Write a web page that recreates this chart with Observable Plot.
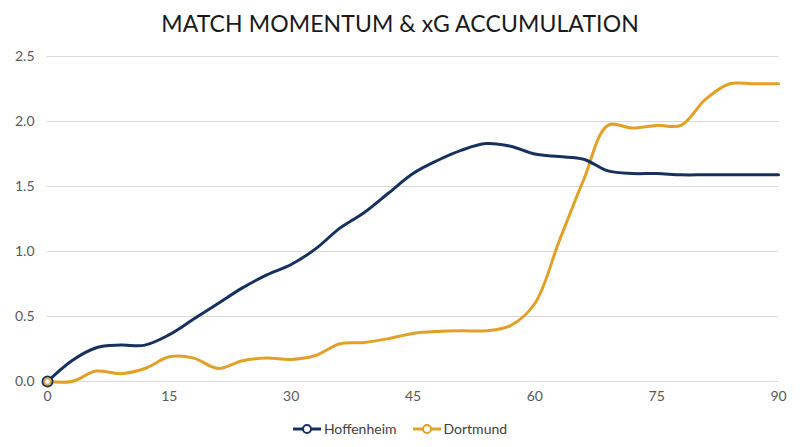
<!DOCTYPE html>
<html>
<head>
<meta charset="utf-8">
<script src="https://cdn.jsdelivr.net/npm/d3@7"></script>
<script src="https://cdn.jsdelivr.net/npm/@observablehq/plot@0.6"></script>
<style>
  html, body { margin: 0; padding: 0; background: #fff; }
  body { width: 800px; height: 447px; overflow: hidden; font-family: Lato, "Open Sans", sans-serif; }
  #title { height: 44px; line-height: 46px; text-align: center; font-size: 23px; color: #1a1a1a; letter-spacing: 0.1px; }
  #legend { display: flex; justify-content: center; gap: 16px; font-size: 14px; color: #404040; margin-top: 6px; }
  .item { display: flex; align-items: center; gap: 3px; }
</style>
</head>
<body>
<div id="title">MATCH MOMENTUM &amp; xG ACCUMULATION</div>
<div id="chart"></div>
<div id="legend"></div>
<script>
const minutes = [0,3,6,9,12,15,18,21,24,27,30,33,36,39,42,45,48,51,54,57,60,63,66,69,72,75,78,81,84,87,90];
const hoffenheim = [0,0.16,0.26,0.28,0.28,0.36,0.48,0.60,0.72,0.82,0.90,1.02,1.18,1.30,1.45,1.60,1.70,1.78,1.83,1.81,1.75,1.73,1.71,1.62,1.60,1.60,1.59,1.59,1.59,1.59,1.59];
const dortmund = [0,0.0,0.08,0.06,0.10,0.19,0.18,0.10,0.16,0.18,0.17,0.20,0.29,0.30,0.33,0.37,0.385,0.39,0.39,0.43,0.60,1.08,1.55,1.97,1.95,1.97,1.97,2.17,2.29,2.29,2.29];
const seriesNames = ["Hoffenheim", "Dortmund"];
const seriesColors = ["#16305f", "#e2a026"];
const xTicks = [0,15,30,45,60,75,90];
const yTicks = [0,0.5,1,1.5,2,2.5];

const data = [];
minutes.forEach((m, i) => {
  data.push({minute: m, xg: hoffenheim[i], team: seriesNames[0]});
  data.push({minute: m, xg: dortmund[i], team: seriesNames[1]});
});

const chart = Plot.plot({
  width: 800,
  height: 370,
  marginLeft: 47,
  marginRight: 22,
  marginTop: 12,
  marginBottom: 33,
  style: { fontFamily: "Lato, 'Open Sans', sans-serif", fontSize: "14px", color: "#595959", background: "#fff" },
  x: { domain: [0, 90], ticks: xTicks, tickSize: 0, tickPadding: 10, label: null },
  y: { domain: [0, 2.5], ticks: yTicks, tickFormat: d3.format(".1f"), tickSize: 0, tickPadding: 13, label: null },
  color: { domain: seriesNames, range: seriesColors },
  marks: [
    Plot.gridY(yTicks, { stroke: "#d9d9d9", strokeOpacity: 1, strokeWidth: 1 }),
    Plot.axisY({ ticks: yTicks, tickFormat: d3.format(".1f"), tickSize: 0, tickPadding: 13, fill: "#595959" }),
    Plot.axisX({ ticks: xTicks, tickSize: 0, tickPadding: 10, fill: "#595959" }),
    Plot.lineY(data.filter(d => d.team === "Dortmund"), { x: "minute", y: "xg", stroke: "team", strokeWidth: 3, curve: "catmull-rom" }),
    Plot.lineY(data.filter(d => d.team === "Hoffenheim"), { x: "minute", y: "xg", stroke: "team", strokeWidth: 3, curve: "catmull-rom" }),
    Plot.dot(data.filter(d => d.minute === 0 && d.team === "Hoffenheim"), { x: "minute", y: "xg", r: 5, stroke: "team", strokeWidth: 2, fill: "#fff" }),
    Plot.dot(data.filter(d => d.minute === 0 && d.team === "Dortmund"), { x: "minute", y: "xg", r: 3, stroke: "team", strokeWidth: 1.5, fill: "#fff" })
  ]
});
document.getElementById("chart").appendChild(chart);

const legend = document.getElementById("legend");
seriesNames.forEach((name, i) => {
  const c = seriesColors[i];
  const item = document.createElement("div");
  item.className = "item";
  item.innerHTML = `<svg width="28" height="12"><line x1="0" y1="6" x2="28" y2="6" stroke="${c}" stroke-width="3"/><circle cx="14" cy="6" r="4" fill="#fff" stroke="${c}" stroke-width="2"/></svg><span>${name}</span>`;
  legend.appendChild(item);
});
</script>
</body>
</html>
